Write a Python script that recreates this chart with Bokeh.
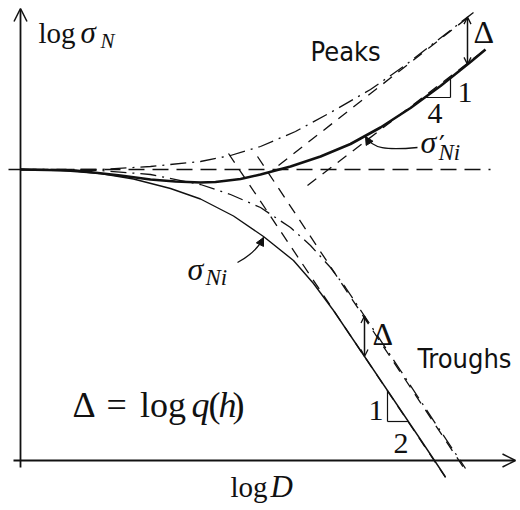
import numpy as np
from bokeh.plotting import figure
from bokeh.models import Range1d, Arrow, OpenHead, NormalHead
from bokeh.core.properties import value
from bokeh.embed import file_html
from bokeh.resources import INLINE

# ---------------- data (log D, log sigma_N units) ----------------
plateau = 5.82  # small-size strength level (horizontal dashed line)
plateau_x = [-0.24, 9.4]

# sigma_Ni : troughs (thin solid)
trough_x = [0, 0.8, 1.6, 2.26, 3.0, 3.6, 4.26, 4.86, 5.46, 5.86, 6.26, 6.8, 7.4, 8.0, 8.5]
trough_y = [5.82, 5.80, 5.74, 5.63, 5.44, 5.23, 4.89, 4.48, 4.00, 3.54, 3.00, 2.20, 1.31, 0.42, -0.33]

# sigma'_Ni : peaks (thick solid)
peak_x = [0, 1.1, 2.0, 2.6, 3.1, 3.6, 3.9, 4.4, 4.8, 5.4, 6.0, 6.6, 7.2, 7.8, 8.4, 9.0, 9.3]
peak_y = [5.82, 5.80, 5.70, 5.62, 5.58, 5.56, 5.57, 5.63, 5.72, 5.88, 6.08, 6.33, 6.66, 7.05, 7.49, 7.97, 8.22]

# shifted curves (dash-dot)
peak_shift_x = [0, 1.6, 2.6, 3.6, 4.2, 4.8, 5.5, 6.2, 7.0, 7.66, 8.4, 9.06]
peak_shift_y = [5.82, 5.82, 5.88, 5.98, 6.10, 6.28, 6.58, 6.96, 7.42, 7.88, 8.45, 8.96]
trough_shift_x = [0, 1.6, 2.6, 3.6, 4.2, 4.8, 5.4, 5.8, 6.2, 6.5, 6.86, 7.6, 8.3, 8.9]
trough_shift_y = [5.82, 5.80, 5.72, 5.52, 5.32, 5.06, 4.66, 4.30, 3.86, 3.46, 2.92, 1.80, 0.74, -0.16]

# straight asymptotes (dashed)
peak_asym_x = [5.74, 9.3]
peak_asym_y = [5.50, 8.22]
peak_asym_shift_x = [5.16, 9.0]
peak_asym_shift_y = [5.90, 8.90]
trough_asym_x = [4.16, 8.5]
trough_asym_y = [6.14, -0.34]
trough_asym_shift_x = [4.74, 8.9]
trough_asym_shift_y = [6.08, -0.20]

# slope triangles and Delta markers
peak_tri_x = 8.6            # vertical leg of 1:4 triangle
peak_tri_y = 7.26           # horizontal leg level
trough_tri_x = 7.34         # vertical leg of 1:2 triangle
trough_tri_y = 0.78
delta_peak_x = 8.94
delta_trough_x = 6.88

INK = "#111111"
SERIF = value("Liberation Serif")
SANS = value("DejaVu Sans Condensed")
PX_PER_UNIT = 50.0

p = figure(width=520, height=510, x_range=Range1d(-0.4, 10.0), y_range=Range1d(-1.0, 9.2),
           x_axis_type=None, y_axis_type=None, output_backend="svg",
           toolbar_location=None, min_border=0)
p.grid.visible = False
p.outline_line_color = None
p.background_fill_color = "white"
p.border_fill_color = "white"

# axes with arrows
p.add_layout(Arrow(end=OpenHead(size=13, line_width=1.5, line_color=INK), x_start=-0.14, y_start=0,
                   x_end=9.9, y_end=0, line_width=1.8, line_color=INK))
p.add_layout(Arrow(end=OpenHead(size=13, line_width=1.5, line_color=INK), x_start=0, y_start=-0.14,
                   x_end=0, y_end=9.04, line_width=1.8, line_color=INK))

# plateau
p.line(plateau_x, [plateau, plateau], line_dash="16 8", line_width=1.5, line_color=INK)

# asymptotes
for xs, ys in [(peak_asym_x, peak_asym_y), (peak_asym_shift_x, peak_asym_shift_y),
               (trough_asym_x, trough_asym_y), (trough_asym_shift_x, trough_asym_shift_y)]:
    p.line(xs, ys, line_dash="11 8", line_width=1.3, line_color=INK)

# shifted curves
p.line(peak_shift_x, peak_shift_y, line_dash="16 6 2 6", line_width=1.3, line_color=INK)
p.line(trough_shift_x, trough_shift_y, line_dash="16 6 2 6", line_width=1.3, line_color=INK)

# main curves
p.line(trough_x, trough_y, line_width=1.4, line_color=INK, line_join="round")
p.line(peak_x, peak_y, line_width=2.6, line_color=INK, line_join="round")

# slope triangles (legs end on the curves)
py_at = lambda x: float(np.interp(x, peak_x, peak_y))
px_at = lambda y: float(np.interp(y, peak_y, peak_x))
tx_at = lambda y: float(np.interp(-y, [-v for v in trough_y], trough_x))
ty_at = lambda x: float(np.interp(x, trough_x, trough_y))

p.segment(x0=[px_at(peak_tri_y), peak_tri_x], y0=[peak_tri_y, peak_tri_y],
          x1=[peak_tri_x, peak_tri_x], y1=[peak_tri_y, py_at(peak_tri_x)],
          line_width=1.2, line_color=INK)
p.segment(x0=[trough_tri_x, trough_tri_x], y0=[ty_at(trough_tri_x), trough_tri_y],
          x1=[trough_tri_x, tx_at(trough_tri_y)], y1=[trough_tri_y, trough_tri_y],
          line_width=1.2, line_color=INK)

# Delta arrows
for xd, ylo, yhi in [(delta_peak_x, py_at(delta_peak_x), float(np.interp(delta_peak_x, peak_shift_x, peak_shift_y))),
                     (delta_trough_x, ty_at(delta_trough_x), float(np.interp(delta_trough_x, trough_shift_x, trough_shift_y)))]:
    p.add_layout(Arrow(start=OpenHead(size=7, line_width=1.3, line_color=INK),
                       end=OpenHead(size=7, line_width=1.3, line_color=INK),
                       x_start=xd, y_start=ylo, x_end=xd, y_end=yhi, line_width=1.5, line_color=INK))

# pointer arrows to the curves
p.bezier(x0=[7.94], y0=[6.26], x1=[6.9], y1=[6.48], cx0=[7.3], cy0=[6.2], cx1=[7.04], cy1=[6.24],
         line_width=1.3, line_color=INK)
p.add_layout(Arrow(end=NormalHead(size=8, fill_color=INK, line_color=INK), x_start=6.96, y_start=6.38,
                   x_end=6.9, y_end=6.48, line_alpha=0))
p.bezier(x0=[4.34], y0=[3.96], x1=[4.86], y1=[4.46], cx0=[4.6], cy0=[4.1], cx1=[4.76], cy1=[4.24],
         line_width=1.3, line_color=INK)
p.add_layout(Arrow(end=NormalHead(size=8, fill_color=INK, line_color=INK), x_start=4.8, y_start=4.34,
                   x_end=4.86, y_end=4.46, line_alpha=0))

def t(x, y, s, size, style="normal", font=SERIF):
    # y is the text baseline; compensate the renderer's baseline offset
    yb = y + 0.35 * size / PX_PER_UNIT
    p.text(x=[x], y=[yb], text=[s], text_font=font, text_font_size=f"{size}px", text_font_style=style,
           text_color=INK, text_baseline="alphabetic", text_align="left")

# axis titles
t(0.36, 8.34, "log", 29)
t(1.2, 8.34, "σ", 31, "italic")
t(1.6, 8.24, "N", 21, "italic")
t(4.2, -0.74, "log", 29)
t(5.0, -0.74, "D", 31, "italic")

# labels
t(5.8, 8.0, "Peaks", 27, font=SANS)
t(7.94, 1.86, "Troughs", 27, font=SANS)
t(9.06, 8.34, "Δ", 32)
t(7.04, 2.3, "Δ", 32)
t(8.74, 7.16, "1", 30)
t(8.14, 6.74, "4", 30)
t(6.96, 0.8, "1", 30)
t(7.46, 0.14, "2", 30)

# sigma'_Ni
t(8.0, 6.14, "σ", 32, "italic")
t(8.37, 6.12, "′", 26, font=value("DejaVu Serif"))
t(8.36, 6.0, "Ni", 23, "italic")
# sigma_Ni
t(3.34, 3.6, "σ", 32, "italic")
t(3.7, 3.5, "Ni", 23, "italic")

# Delta = log q(h)
t(1.04, 0.86, "Δ", 36)
t(1.72, 0.86, "=", 36)
t(2.39, 0.86, "log", 36)
t(3.42, 0.86, "q", 36, "italic")
t(3.76, 0.86, "(", 36)
t(3.96, 0.86, "h", 36, "italic")
t(4.24, 0.86, ")", 36)

open("out.html", "w").write(file_html(p, INLINE))
